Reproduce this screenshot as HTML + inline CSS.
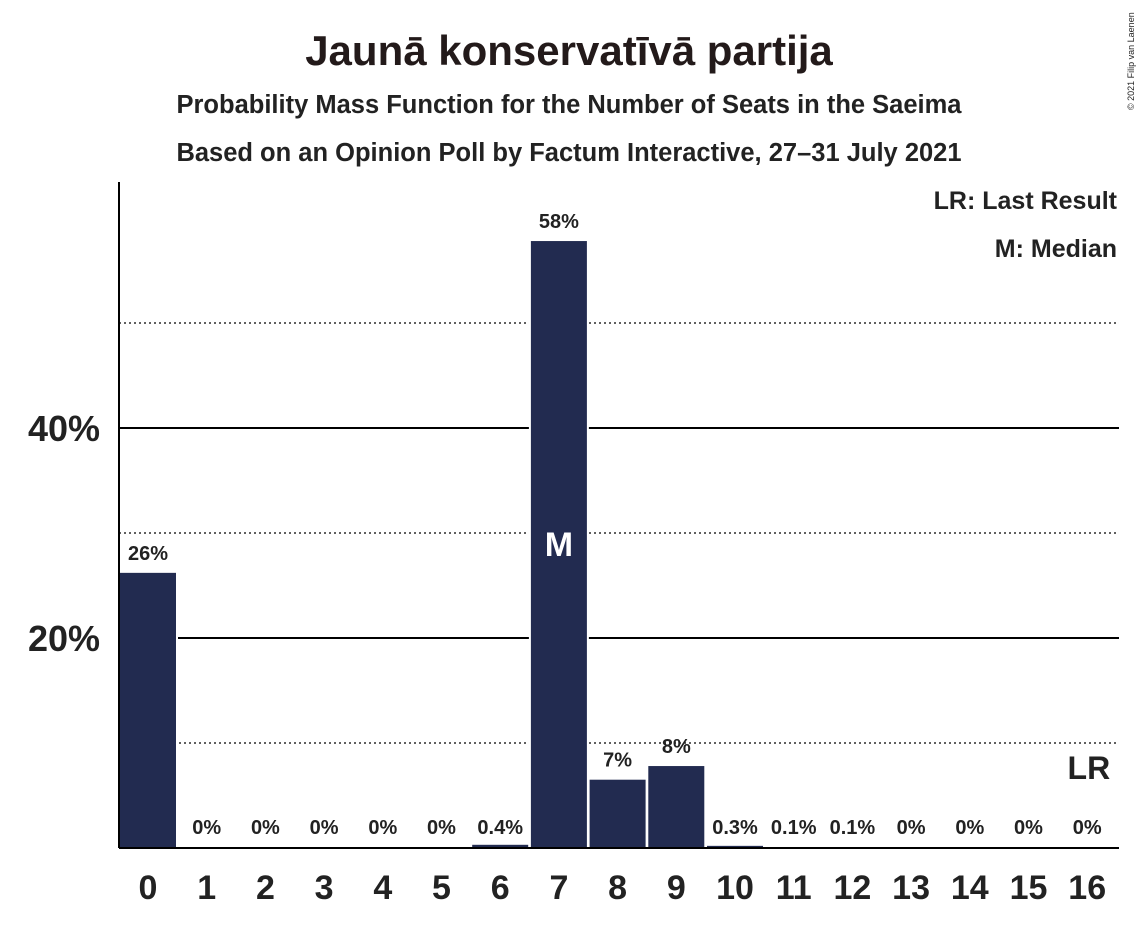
<!DOCTYPE html>
<html><head><meta charset="utf-8"><style>
body{margin:0;background:#fff;}
svg text{font-family:"Liberation Sans",sans-serif;font-weight:bold;fill:#222;}
</style></head><body>
<svg width="1139" height="924" xmlns="http://www.w3.org/2000/svg">
<text x="569" y="65" text-anchor="middle" font-size="42" style="fill:#231a1a">Jaunā konservatīvā partija</text>
<text x="569" y="113" text-anchor="middle" font-size="25.5">Probability Mass Function for the Number of Seats in the Saeima</text>
<text x="569" y="161" text-anchor="middle" font-size="25.5">Based on an Opinion Poll by Factum Interactive, 27–31 July 2021</text>
<text x="1134" y="110" font-size="9" transform="rotate(-90 1134 110)" style="font-weight:normal">© 2021 Filip van Laenen</text>
<g id="grid"></g>
<g id="bars"></g>
<g id="labels"></g>
<line x1="119" y1="182" x2="119" y2="848" stroke="#000" stroke-width="2"/>
<line x1="119" y1="848" x2="1119" y2="848" stroke="#000" stroke-width="2"/>
<text x="1117" y="209" text-anchor="end" font-size="25">LR: Last Result</text>
<text x="1117" y="257" text-anchor="end" font-size="25">M: Median</text>
</svg>
<script>
const categories=[0,1,2,3,4,5,6,7,8,9,10,11,12,13,14,15,16];
const values=[26.3,0,0,0,0,0,0.4,57.9,6.6,7.9,0.3,0.1,0.1,0,0,0,0];
const valueLabels=["26%","0%","0%","0%","0%","0%","0.4%","58%","7%","8%","0.3%","0.1%","0.1%","0%","0%","0%","0%"];
const yTicks=[20,40];
const yMinor=[10,30,50];
const medianIndex=7;
const lastResultIndex=16;
const ns="http://www.w3.org/2000/svg";
const y=v=>848-v*10.5;
const xc=i=>148+i*58.7;
const bw=58;
function mk(t,a,p){const e=document.createElementNS(ns,t);for(const k in a)e.setAttribute(k,a[k]);p.appendChild(e);return e;}
const grid=document.getElementById('grid'),bars=document.getElementById('bars'),labels=document.getElementById('labels');
yMinor.forEach(v=>{const l=mk('line',{x1:119,x2:1119,y1:y(v),y2:y(v),stroke:'#000','stroke-width':1.3,'stroke-dasharray':'2,3'},grid);

});
yTicks.forEach(v=>{const l=mk('line',{x1:119,x2:1119,y1:y(v),y2:y(v),stroke:'#000','stroke-width':2},grid);


const t=mk('text',{x:100,y:y(v)+13,'text-anchor':'end','font-size':36},labels);t.textContent=v+'%';

});
categories.forEach((c,i)=>{const v=values[i];
if(v>0){const r=mk('rect',{x:xc(i)-bw/2,y:y(v),width:bw,height:848-y(v),fill:'#222b50',stroke:'#fff','stroke-width':2},bars);

}
const t=mk('text',{x:xc(i),y:y(v)-12,'text-anchor':'middle','font-size':20},labels);t.textContent=valueLabels[i];
if(v<3)t.setAttribute('y',834);


const xt=mk('text',{x:xc(i),y:899,'text-anchor':'middle','font-size':34},labels);xt.textContent=c;

});
const m=mk('text',{x:xc(medianIndex),y:y(values[medianIndex]/2)+12,'text-anchor':'middle','font-size':34,style:'fill:#fff'},labels);m.textContent='M';


const lr=mk('text',{x:xc(lastResultIndex)+23,y:779,'text-anchor':'end','font-size':32},labels);lr.textContent='LR';


</script>
</body></html>
